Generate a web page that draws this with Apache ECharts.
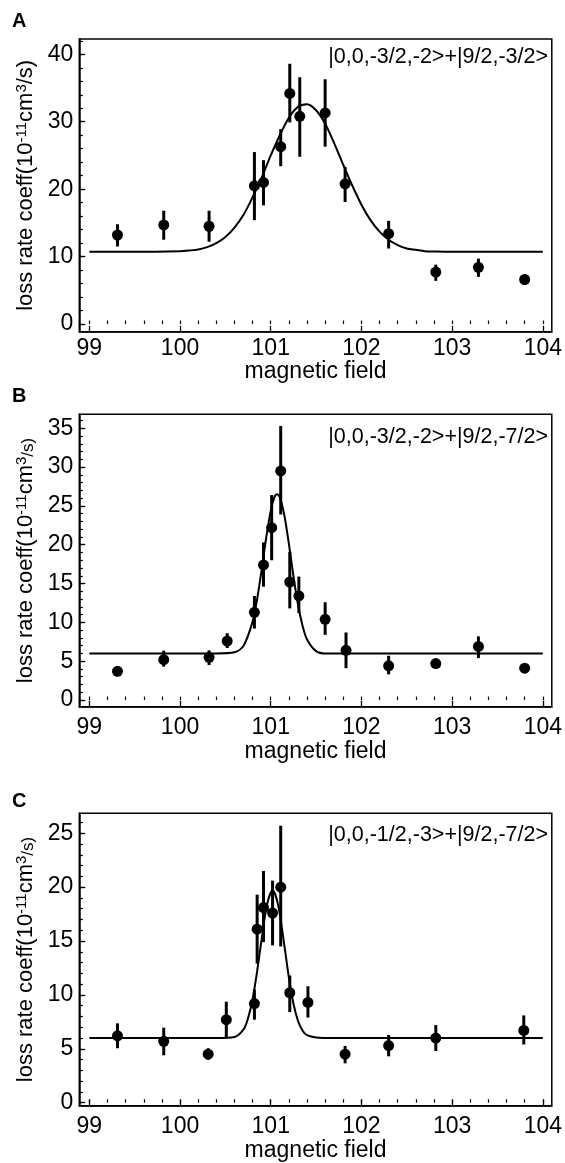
<!DOCTYPE html>
<html>
<head>
<meta charset="utf-8">
<title>loss rate coeff vs magnetic field</title>
<script src="https://cdn.jsdelivr.net/npm/echarts@6/dist/echarts.min.js"></script>
<style>
  html, body { margin: 0; padding: 0; background: #fff; }
  #chart { width: 565px; height: 1163px; }
</style>
</head>
<body>
<div id="chart"></div>
<script>
// tick labels
let fieldTicks = [99, 100, 101, 102, 103, 104];
let rateTicksA = [0, 10, 20, 30, 40];
let rateTicksB = [0, 5, 10, 15, 20, 25, 30, 35];
let rateTicksC = [0, 5, 10, 15, 20, 25];

// panel A  |0,0,-3/2,-2>+|9/2,-3/2>
let fieldA = [99.31, 99.82, 100.32, 100.82, 100.92, 101.11, 101.21, 101.32, 101.60, 101.82, 102.30, 102.82, 103.29, 103.80];
let rateA  = [13.2, 14.7, 14.5, 20.5, 21.0, 26.3, 34.2, 30.8, 31.3, 20.8, 13.4, 7.7, 8.4, 6.6];
let lowA   = [11.5, 12.5, 12.2, 15.4, 17.6, 23.4, 29.9, 24.8, 26.3, 18.1, 11.2, 6.4, 7.0, 5.8];
let highA  = [14.8, 16.8, 16.8, 25.5, 24.3, 28.9, 38.6, 36.6, 36.3, 23.3, 15.3, 8.8, 9.7, 7.4];
let fitFieldA = [99.0, 99.5, 100.0, 100.1, 100.2, 100.3, 100.4, 100.5, 100.6, 100.7, 100.8, 100.9, 101.0, 101.1, 101.2, 101.3, 101.4, 101.5, 101.6, 101.7, 101.8, 101.9, 102.0, 102.1, 102.2, 102.3, 102.4, 102.5, 102.6, 102.7, 102.8, 103.0, 103.5, 104.0];
let fitRateA  = [10.7, 10.7, 10.8, 10.9, 11.05, 11.4, 12.0, 12.9, 14.3, 16.2, 18.8, 21.7, 25.0, 28.0, 30.6, 32.2, 32.6, 31.7, 29.7, 26.8, 23.6, 20.5, 17.7, 15.4, 13.7, 12.5, 11.7, 11.2, 11.0, 10.8, 10.75, 10.7, 10.7, 10.7];

// panel B  |0,0,-3/2,-2>+|9/2,-7/2>
let fieldB = [99.31, 99.82, 100.32, 100.52, 100.82, 100.92, 101.01, 101.11, 101.21, 101.31, 101.60, 101.83, 102.30, 102.82, 103.29, 103.80];
let rateB  = [3.7, 5.2, 5.5, 7.6, 11.3, 17.4, 22.2, 29.5, 15.2, 13.4, 10.4, 6.4, 4.4, 4.7, 6.9, 4.1];
let lowB   = [3.2, 4.3, 4.5, 6.7, 9.2, 14.6, 18.0, 23.9, 11.8, 11.2, 8.4, 4.1, 3.3, 4.4, 5.4, 3.7];
let highB  = [4.2, 6.35, 6.4, 8.6, 13.4, 20.3, 26.4, 35.3, 19.1, 15.9, 12.6, 8.7, 5.7, 5.0, 8.2, 4.5];
let fitFieldB = [99.0, 99.5, 100.0, 100.4, 100.6, 100.7, 100.8, 100.85, 100.9, 100.95, 101.0, 101.04, 101.07, 101.1, 101.15, 101.2, 101.25, 101.3, 101.35, 101.4, 101.5, 101.6, 101.8, 102.5, 103.0, 104.0];
let fitRateB  = [6.0, 6.0, 6.0, 6.0, 6.15, 7.0, 10.1, 13.0, 16.8, 20.9, 24.4, 26.1, 26.5, 26.1, 23.8, 20.1, 16.0, 12.3, 9.6, 7.8, 6.3, 6.0, 6.0, 6.0, 6.0, 6.0];

// panel C  |0,0,-1/2,-3>+|9/2,-7/2>
let fieldC = [99.31, 99.82, 100.31, 100.51, 100.82, 100.85, 100.92, 101.02, 101.11, 101.21, 101.41, 101.82, 102.30, 102.82, 103.79];
let rateC  = [6.2, 5.7, 4.5, 7.7, 9.2, 16.1, 18.1, 17.6, 20.0, 10.2, 9.3, 4.5, 5.3, 6.0, 6.7];
let lowC   = [5.05, 4.4, 4.0, 5.97, 7.7, 12.9, 14.9, 14.6, 14.5, 8.4, 7.9, 3.65, 4.3, 4.8, 5.4];
let highC  = [7.36, 6.96, 5.05, 9.37, 10.5, 19.3, 21.5, 20.6, 25.7, 11.8, 10.8, 5.26, 6.28, 7.2, 8.1];
let fitFieldC = [99.0, 99.5, 100.0, 100.4, 100.6, 100.7, 100.75, 100.8, 100.85, 100.9, 100.96, 101.02, 101.08, 101.15, 101.2, 101.25, 101.3, 101.35, 101.4, 101.5, 101.7, 102.5, 103.0, 104.0];
let fitRateC  = [6.0, 6.0, 6.0, 6.0, 6.1, 6.8, 7.85, 9.6, 12.2, 15.2, 18.4, 19.7, 18.4, 14.6, 11.6, 9.2, 7.6, 6.7, 6.26, 6.05, 6.0, 6.0, 6.0, 6.0];

const FONT = '"Liberation Sans", Arial, sans-serif';

function steps(from, to, step) {
    let out = [];
    for (let v = from; v <= to + 1e-9; v += step) {
        out.push(Math.round(v * 1000) / 1000);
    }
    return out;
}

// one panel: layout settings + its data
let panels = [
    { top: 39,    height: 292.7, yMin: -1.14, yMax: 42.27, ticks: rateTicksA, minor: steps(0, 42, 2),
      labMargin: 5, nameGap: 27, small: false, state: '|0,0,-3/2,-2>+|9/2,-3/2>', stateY: 58, letter: 'A', letterY: 22,
      x: fieldA, y: rateA, lo: lowA, hi: highA, fx: fitFieldA, fy: fitRateA },
    { top: 414.3, height: 292.4, yMin: -0.86, yMax: 36.8, ticks: rateTicksB, minor: steps(0, 36, 1),
      labMargin: 9, nameGap: 33, small: true, state: '|0,0,-3/2,-2>+|9/2,-7/2>', stateY: 438, letter: 'B', letterY: 397,
      x: fieldB, y: rateB, lo: lowB, hi: highB, fx: fitFieldB, fy: fitRateB },
    { top: 813.3, height: 292.4, yMin: -0.28, yMax: 26.85, ticks: rateTicksC, minor: steps(0, 26, 1),
      labMargin: 9, nameGap: 33, small: true, state: '|0,0,-1/2,-3>+|9/2,-7/2>', stateY: 836, letter: 'C', letterY: 802,
      x: fieldC, y: rateC, lo: lowC, hi: highC, fx: fitFieldC, fy: fitRateC }
];

function errorBar(params, api) {
    let x = api.value(0);
    let p1 = api.coord([x, api.value(1)]);
    let p2 = api.coord([x, api.value(2)]);
    return {
        type: 'line',
        shape: { x1: p1[0], y1: p1[1], x2: p2[0], y2: p2[1] },
        style: { stroke: '#000', lineWidth: 3 }
    };
}

function buildOption() {
    let grid = [], xAxis = [], yAxis = [], series = [], graphic = [];
    let xMinor = steps(99, 104, 0.2);

    panels.forEach((p, i) => {
        grid.push({ left: 79.3, top: p.top, width: 473.1, height: p.height,
                    show: true, borderColor: '#000', borderWidth: 1.5, backgroundColor: 'transparent' });

        xAxis.push({
            type: 'value', gridIndex: i, min: 98.889, max: 104.099, position: 'bottom',
            axisLine: { show: true, onZero: false, lineStyle: { color: '#000', width: 1.5 } },
            axisTick: { inside: true, length: 6, customValues: fieldTicks, lineStyle: { color: '#000', width: 1.3 } },
            axisLabel: { customValues: fieldTicks, margin: p.labMargin, fontSize: 23, color: '#000', fontFamily: FONT },
            splitLine: { show: false },
            name: 'magnetic field', nameLocation: 'middle', nameGap: p.nameGap,
            nameTextStyle: { fontSize: 23, color: '#000', fontFamily: FONT }
        });
        xAxis.push({
            type: 'value', gridIndex: i, min: 98.889, max: 104.099, position: 'bottom',
            axisLine: { show: false },
            axisTick: { inside: true, length: 3.5, customValues: xMinor, lineStyle: { color: '#000', width: 1.2 } },
            axisLabel: { show: false },
            splitLine: { show: false }
        });

        let tail = p.small ? '{m|/s)}' : '{t|/s)}';
        yAxis.push({
            type: 'value', gridIndex: i, min: p.yMin, max: p.yMax, position: 'left',
            axisLine: { show: true, lineStyle: { color: '#000', width: 1.5 } },
            axisTick: { inside: true, length: 6, customValues: p.ticks, lineStyle: { color: '#000', width: 1.3 } },
            axisLabel: { customValues: p.ticks, margin: 6, fontSize: 23, color: '#000', fontFamily: FONT },
            splitLine: { show: false },
            name: '{t|loss rate coeff(10}{s|-11}{t|cm}{s|3}' + tail,
            nameLocation: 'middle', nameGap: 38,
            nameTextStyle: {
                color: '#000', fontFamily: FONT,
                rich: {
                    t: { fontSize: 22, fontFamily: FONT, color: '#000', verticalAlign: 'bottom' },
                    s: { fontSize: 15, fontFamily: FONT, color: '#000', verticalAlign: 'top' },
                    m: { fontSize: 17, fontFamily: FONT, color: '#000', verticalAlign: 'bottom' }
                }
            }
        });
        yAxis.push({
            type: 'value', gridIndex: i, min: p.yMin, max: p.yMax, position: 'left',
            axisLine: { show: false },
            axisTick: { inside: true, length: 3.5, customValues: p.minor, lineStyle: { color: '#000', width: 1.2 } },
            axisLabel: { show: false },
            splitLine: { show: false }
        });

        let xi = i * 2, yi = i * 2;
        series.push({
            type: 'custom', xAxisIndex: xi, yAxisIndex: yi,
            renderItem: errorBar,
            encode: { x: 0, y: [1, 2] },
            data: p.x.map((v, k) => [v, p.lo[k], p.hi[k]]),
            z: 2
        });
        series.push({
            type: 'scatter', xAxisIndex: xi, yAxisIndex: yi,
            symbol: 'circle', symbolSize: 11,
            itemStyle: { color: '#000', opacity: 1 },
            data: p.x.map((v, k) => [v, p.y[k]]),
            z: 3
        });
        series.push({
            type: 'line', xAxisIndex: xi, yAxisIndex: yi,
            showSymbol: false, smooth: 0.3,
            lineStyle: { color: '#000', width: 2 },
            data: p.fx.map((v, k) => [v, p.fy[k]]),
            z: 4
        });

        graphic.push({
            type: 'text', left: 12, top: p.letterY - 11,
            style: { text: p.letter, font: 'bold 20px ' + FONT, fill: '#000' }
        });
        graphic.push({
            type: 'text', right: 17, top: p.stateY - 12,
            style: { text: p.state, font: '21.5px ' + FONT, fill: '#000' }
        });
    });

    return { animation: false, backgroundColor: '#fff', grid, xAxis, yAxis, series, graphic };
}

let chart = echarts.init(document.getElementById('chart'));
chart.setOption(buildOption());
</script>
</body>
</html>
